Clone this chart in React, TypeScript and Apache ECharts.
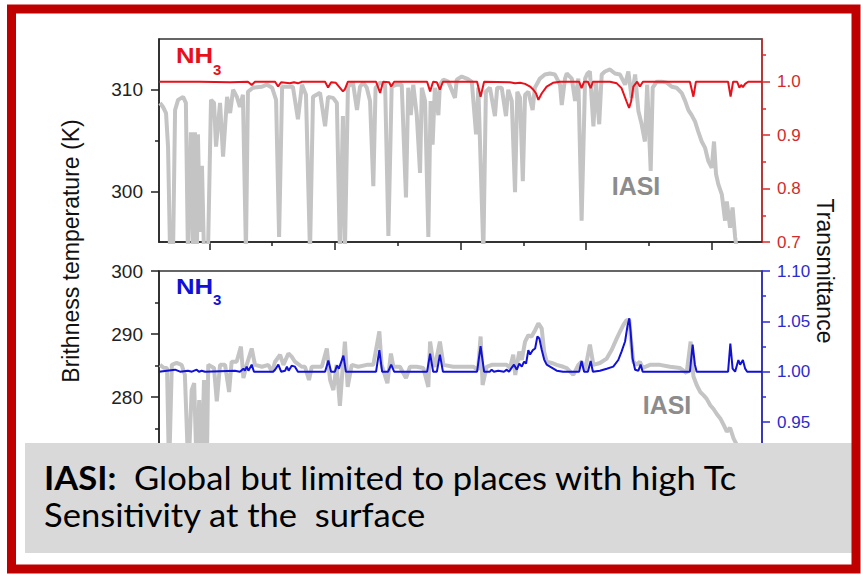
import React, { useEffect, useRef } from "react";
import * as echarts from "echarts";

// ---------- data (wavenumber cm-1, brightness temperature K, transmittance) ----------
const X_MIN = 830;
const X_MAX = 1070;

const topIasiWn = [830.4, 831.6, 832.8, 833.6, 834.4, 835.6, 836.4, 837.6, 839.6, 840.7,
  841.5, 842.7, 843.5, 844.3, 845.1, 845.5, 846.3, 847.1, 847.9, 849.5,
  850.7, 851.9, 852.7, 854.3, 855.5, 857.1, 858.3, 859.5, 861.0, 862.2,
  863.4, 864.6, 865.4, 867.4, 871.0, 873.0, 875.0, 876.6, 877.8, 879.0,
  883.3, 885.3, 886.9, 888.5, 890.1, 891.3, 894.1, 896.1, 897.3, 899.3,
  900.8, 902.0, 903.2, 904.0, 905.2, 907.2, 908.8, 910.0, 911.3, 912.7,
  914.0, 915.3, 916.2, 918.0, 920.0, 921.3, 922.6, 924.6, 926.6, 928.3,
  929.2, 930.2, 931.2, 932.6, 933.9, 934.6, 935.9, 937.2, 938.1, 938.9,
  939.8, 941.2, 941.8, 943.2, 945.1, 947.8, 948.5, 950.5, 952.5, 954.5,
  956.2, 957.1, 959.1, 960.1, 961.7, 963.7, 964.6, 966.4, 968.1, 969.0,
  970.4, 971.7, 972.6, 973.7, 974.8, 975.7, 977.0, 978.7, 979.6, 981.6,
  983.6, 985.6, 987.6, 989.6, 990.3, 991.6, 992.3, 994.3, 995.6, 996.9,
  998.2, 999.6, 1000.5, 1001.5, 1002.9, 1003.9, 1005.2, 1006.2, 1007.5, 1009.5,
  1011.5, 1013.5, 1015.5, 1016.8, 1018.1, 1019.5, 1020.8, 1022.1, 1023.4, 1024.3,
  1025.7, 1026.5, 1028.1, 1030.1, 1032.1, 1034.1, 1036.0, 1038.0, 1039.4, 1040.7,
  1042.0, 1043.3, 1044.6, 1046.0, 1047.3, 1048.6, 1050.0, 1050.9, 1051.7, 1052.6,
  1054.0, 1055.3, 1056.0, 1057.3, 1058.3, 1059.3, 1060.1];
const topIasiK = [308.7, 308.3, 307.7, 304.4, 294, 294, 308.0, 309.0, 309.3, 308.7,
  294, 305.8, 294, 305.8, 294, 305.6, 296.0, 302.5, 294, 294,
  309.0, 308.7, 304.4, 308.7, 303.4, 309.3, 307.7, 310.0, 309.3, 308.3,
  309.5, 294, 309.8, 310.2, 310.3, 310.5, 310.2, 309.0, 295.5, 310.3,
  310.3, 307.1, 310.5, 309.5, 294, 309.3, 309.7, 306.4, 309.3, 309.2,
  308.7, 294, 307.4, 294, 310.3, 310.7, 308.0, 310.3, 310.7, 310.2,
  308.9, 300.5, 310.2, 310.7, 310.5, 295.6, 310.3, 310.5, 310.5, 299.4,
  310.2, 307.5, 310.5, 307.5, 301.8, 310.2, 308.9, 295.5, 308.9, 304.6,
  310.2, 307.5, 310.5, 311.0, 310.8, 309.2, 311.0, 311.3, 311.1, 310.8,
  305.6, 310.2, 294, 309.8, 310.2, 307.4, 310.2, 310.2, 307.4, 310.0,
  308.9, 299.9, 309.8, 309.2, 301.0, 309.5, 309.8, 308.0, 310.2, 311.1,
  311.5, 311.6, 311.5, 310.5, 308.5, 311.1, 311.6, 311.1, 308.9, 311.1,
  297.1, 311.1, 311.6, 311.8, 306.4, 310.8, 306.6, 311.5, 311.8, 312.0,
  311.6, 311.5, 310.5, 311.8, 309.2, 311.5, 307.9, 306.6, 304.9, 310.5,
  302.0, 310.2, 310.8, 310.8, 310.7, 310.3, 310.2, 309.7, 308.9, 308.0,
  307.5, 306.9, 305.9, 304.9, 304.3, 303.0, 302.3, 304.9, 301.7, 300.7,
  299.7, 297.1, 299.0, 296.4, 298.4, 295.5, 294];

const topNh3Wn = [830.0, 846.3, 858.3, 865.4, 866.9, 868.2, 876.2, 877.4, 878.6, 882.1,
  883.7, 885.3, 886.9, 896.1, 897.3, 898.5, 900.4, 903.2, 904.0, 905.2,
  916.4, 918.0, 919.2, 921.6, 922.4, 923.6, 936.7, 937.9, 939.1, 940.6,
  941.8, 943.0, 956.6, 958.0, 959.4, 969.7, 971.7, 973.7, 975.7, 977.7,
  979.0, 980.1, 981.0, 982.3, 984.3, 986.8, 989.6, 997.2, 998.2, 999.2,
  1000.7, 1001.8, 1002.7, 1009.5, 1012.2, 1014.1, 1016.1, 1017.1, 1017.9, 1018.8,
  1020.3, 1021.4, 1022.6, 1041.3, 1042.7, 1043.7, 1056.5, 1057.5, 1058.5, 1060.1,
  1061.0, 1061.7, 1062.4, 1063.3, 1064.5, 1070.0];
const topNh3T = [1.000, 1.000, 0.999, 1.000, 0.994, 1.000, 1.000, 0.991, 0.999, 0.997,
  0.999, 0.997, 1.000, 1.000, 0.989, 0.999, 0.998, 0.982, 0.986, 1.000,
  1.000, 0.979, 1.000, 0.999, 0.991, 1.000, 1.000, 0.982, 1.000, 0.999,
  0.985, 1.000, 1.000, 0.972, 1.000, 0.999, 0.997, 0.998, 0.996, 0.991,
  0.985, 0.978, 0.966, 0.978, 0.991, 0.998, 1.000, 1.000, 0.988, 1.000,
  1.000, 0.988, 1.000, 1.000, 0.997, 0.988, 0.963, 0.951, 0.963, 0.991,
  1.000, 0.991, 1.000, 1.000, 0.972, 1.000, 1.000, 0.972, 1.000, 1.000,
  0.989, 0.994, 0.990, 0.996, 1.000, 1.000];

const botIasiWn = [830.4, 832.0, 833.2, 834.0, 835.1, 837.0, 839.0, 840.3, 841.7, 843.0,
  844.0, 845.0, 846.0, 847.0, 847.9, 849.0, 849.6, 851.0, 851.9, 853.0,
  854.3, 856.3, 857.9, 858.9, 860.9, 862.6, 863.6, 864.9, 866.9, 868.2,
  871.0, 873.5, 875.0, 876.2, 878.2, 879.5, 881.5, 882.8, 884.1, 886.8,
  888.1, 889.7, 890.8, 894.8, 896.8, 898.1, 899.4, 900.7, 902.0, 903.1,
  904.0, 905.1, 906.7, 909.3, 912.7, 915.3, 917.7, 918.6, 920.9, 922.3,
  923.3, 925.9, 928.3, 929.9, 932.6, 935.2, 937.2, 937.9, 939.1, 939.8,
  941.8, 943.2, 947.1, 951.1, 955.1, 957.0, 958.0, 958.8, 960.4, 962.4,
  965.7, 968.4, 969.7, 971.0, 971.8, 973.4, 974.4, 975.7, 977.0, 978.3,
  979.7, 981.0, 982.3, 983.3, 984.3, 986.3, 988.3, 990.9, 992.3, 994.9,
  996.9, 998.2, 999.6, 1001.5, 1002.9, 1005.5, 1008.2, 1010.2, 1012.2, 1013.5,
  1014.8, 1016.1, 1017.2, 1017.9, 1018.8, 1020.1, 1021.4, 1022.5, 1025.4, 1029.4,
  1033.4, 1037.4, 1040.0, 1041.6, 1042.7, 1044.0, 1045.4, 1046.7, 1048.0, 1049.4,
  1050.7, 1052.0, 1053.4, 1054.7, 1056.0, 1057.3, 1058.7, 1060.0, 1062.0, 1063.3];
const botIasiK = [285.1, 284.6, 284.6, 268, 285.1, 285.4, 285.1, 283.5, 268, 281.1,
  282.2, 268, 279.5, 268, 282.7, 268, 285.1, 284.8, 284.6, 279.3,
  285.1, 285.1, 280.8, 285.6, 285.6, 288.0, 283.0, 285.1, 287.7, 285.1,
  284.8, 285.1, 284.0, 285.6, 286.7, 285.1, 286.9, 286.4, 285.6, 284.8,
  284.8, 282.7, 284.8, 284.8, 287.7, 282.7, 281.1, 285.1, 278.6, 284.6,
  288.8, 281.6, 285.1, 284.8, 285.1, 285.1, 290.4, 285.1, 282.2, 286.9,
  284.8, 284.8, 283.0, 284.8, 284.8, 284.6, 281.6, 288.8, 285.6, 284.8,
  288.8, 285.1, 284.8, 284.8, 284.8, 284.3, 289.6, 281.9, 284.8, 285.1,
  285.1, 285.1, 284.6, 286.7, 283.5, 287.2, 285.9, 288.8, 289.8, 289.6,
  290.6, 291.7, 290.9, 287.2, 285.6, 285.4, 285.1, 284.8, 284.6, 283.5,
  285.1, 285.6, 284.3, 288.3, 285.1, 285.4, 286.1, 287.5, 289.3, 290.4,
  291.4, 292.2, 292.2, 288.8, 285.6, 285.1, 285.6, 284.6, 285.1, 285.1,
  284.8, 284.6, 283.8, 288.8, 283.3, 281.9, 280.8, 280.3, 279.7, 278.7,
  278.1, 277.3, 276.6, 275.6, 274.5, 275.1, 273.4, 272.4, 271.4, 270];

const botNh3Wn = [830.0, 836.4, 838.4, 841.5, 843.1, 845.0, 845.9, 847.0, 848.3, 860.2,
  862.2, 863.6, 864.2, 864.9, 865.6, 866.9, 867.8, 875.4, 876.2, 877.5,
  878.6, 880.2, 880.9, 881.6, 882.8, 884.1, 885.3, 896.1, 897.4, 898.5,
  900.0, 900.8, 901.6, 903.4, 904.4, 916.4, 917.7, 918.8, 921.2, 922.4,
  923.6, 936.7, 937.9, 939.1, 940.6, 941.8, 943.0, 956.6, 958.0, 959.4,
  961.7, 962.4, 963.3, 965.0, 967.3, 968.4, 969.3, 970.4, 971.3, 972.4,
  973.4, 974.4, 975.3, 976.1, 977.0, 977.7, 978.8, 979.7, 980.6, 981.4,
  982.3, 983.3, 984.3, 986.3, 988.3, 990.8, 997.2, 998.2, 999.2, 1000.7,
  1001.8, 1002.7, 1005.5, 1008.2, 1010.8, 1012.8, 1014.1, 1015.5, 1016.5, 1017.2,
  1017.7, 1018.5, 1019.5, 1020.8, 1021.7, 1022.5, 1041.3, 1042.4, 1043.3, 1044.0,
  1056.5, 1057.4, 1058.3, 1059.3, 1060.6, 1061.3, 1062.4, 1063.3, 1064.1, 1070.0];
const botNh3T = [1.000, 1.002, 1.000, 1.001, 1.000, 1.002, 1.000, 1.001, 1.000, 1.001,
  1.000, 1.003, 1.001, 1.005, 1.001, 1.007, 1.000, 1.000, 1.002, 1.007,
  1.000, 1.001, 1.005, 1.001, 1.006, 1.005, 1.000, 1.000, 1.011, 1.000,
  1.000, 1.006, 1.003, 1.016, 1.000, 1.000, 1.0215, 1.000, 1.000, 1.007,
  1.000, 1.000, 1.018, 1.000, 1.000, 1.017, 1.000, 1.000, 1.0255, 1.000,
  1.000, 1.002, 1.000, 1.001, 1.000, 1.002, 1.000, 1.004, 1.007, 1.002,
  1.008, 1.005, 1.010, 1.008, 1.0215, 1.017, 1.0215, 1.023, 1.035, 1.033,
  1.022, 1.012, 1.007, 1.004, 1.001, 1.000, 1.000, 1.0106, 1.000, 1.000,
  1.0106, 1.000, 1.001, 1.003, 1.005, 1.0116, 1.020, 1.030, 1.046, 1.053,
  1.040, 1.013, 1.002, 1.001, 1.007, 1.000, 1.000, 1.027, 1.007, 1.000,
  1.000, 1.028, 1.003, 1.000, 1.0116, 1.007, 1.0116, 1.003, 1.000, 1.000];

// ---------- ticks ----------
const xMajorTicks = [850, 900, 950, 1000, 1050];
const xMinorTicks = [875, 925, 975, 1025];
const topLeftLabels = [300, 310];
const topLeftMinor = [305];
const topRightLabels = [0.7, 0.8, 0.9, 1.0];
const topRightMinor = [0.75, 0.85, 0.95, 1.05];
const botLeftLabels = [280, 290, 300];
const botLeftMinor = [275, 285, 295];
const botRightLabels = [0.95, 1.0, 1.05, 1.1];
const botRightMinor = [0.975, 1.025, 1.075];

const FONT = '"Liberation Sans", Arial, Helvetica, sans-serif';
const BOX_FONT = 'Lato, "Open Sans", sans-serif';
const RED = "#e8101a";
const RED_AX = "#d42a2a";
const BLUE = "#1010d8";
const BLUE_AX = "#2b2bd0";
const GRAY = "#c4c4c4";

const zip = (xs: number[], ys: number[]) => xs.map((x, i) => [x, ys[i]]);

function yAx(grid: number, pos: string, min: number, max: number, color: string, labels: number[], fmt: (v: number) => string, fontSize: number, margin: number) {
  return {
    gridIndex: grid, type: "value", position: pos, min, max,
    axisLine: { show: true, onZero: false, lineStyle: { color, width: 1.5 } },
    axisTick: { show: true, customValues: labels, length: 8, lineStyle: { color, width: 1.5 } },
    axisLabel: { show: true, customValues: labels, formatter: fmt, margin, color, fontSize, fontFamily: FONT },
    splitLine: { show: false },
  };
}
function yMinor(grid: number, pos: string, min: number, max: number, color: string, ticks: number[]) {
  return {
    gridIndex: grid, type: "value", position: pos, min, max,
    axisLine: { show: false, onZero: false },
    axisTick: { show: true, customValues: ticks, length: 4, lineStyle: { color, width: 1.5 } },
    axisLabel: { show: false },
    splitLine: { show: false },
  };
}

export default function App() {
  const ref = useRef<HTMLDivElement>(null);
  useEffect(() => {
    document.body.style.margin = "0";
    const chart = echarts.init(ref.current!, null, { renderer: "svg" });
    const option: any = {
      animation: false,
      backgroundColor: "#ffffff",
      grid: [
        { left: 159, top: 39, width: 603, height: 203, show: true, borderColor: "#333", borderWidth: 1.5, backgroundColor: "transparent" },
        { left: 159, top: 271, width: 603, height: 189, show: true, borderColor: "#333", borderWidth: 1.5, backgroundColor: "transparent" },
      ],
      xAxis: [
        {
          gridIndex: 0, type: "value", min: X_MIN, max: X_MAX, position: "bottom",
          axisLine: { onZero: false, lineStyle: { color: "#222", width: 1.5 } },
          axisTick: { customValues: xMajorTicks, length: 8, lineStyle: { color: "#222", width: 1.5 } },
          axisLabel: { show: false }, splitLine: { show: false },
        },
        {
          gridIndex: 0, type: "value", min: X_MIN, max: X_MAX, position: "bottom",
          axisLine: { show: false, onZero: false },
          axisTick: { customValues: xMinorTicks, length: 4, lineStyle: { color: "#222", width: 1.5 } },
          axisLabel: { show: false }, splitLine: { show: false },
        },
        { gridIndex: 1, type: "value", min: X_MIN, max: X_MAX, show: false, axisLine: { onZero: false }, splitLine: { show: false } },
      ],
      yAxis: [
        yAx(0, "left", 295, 315, "#222", topLeftLabels, (v: number) => String(v), 19, 16),
        yMinor(0, "left", 295, 315, "#222", topLeftMinor),
        yAx(0, "right", 0.7, 1.08, RED_AX, topRightLabels, (v: number) => v.toFixed(1), 17, 15),
        yMinor(0, "right", 0.7, 1.08, RED_AX, topRightMinor),
        yAx(1, "left", 270, 300, "#222", botLeftLabels, (v: number) => String(v), 19, 16),
        yMinor(1, "left", 270, 300, "#222", botLeftMinor),
        yAx(1, "right", 0.9123, 1.1, BLUE_AX, botRightLabels, (v: number) => v.toFixed(2), 17, 15),
        yMinor(1, "right", 0.9123, 1.1, BLUE_AX, botRightMinor),
      ],
      series: [
        { type: "line", name: "IASI top", xAxisIndex: 0, yAxisIndex: 0, data: zip(topIasiWn, topIasiK), showSymbol: false, silent: true, lineStyle: { color: GRAY, width: 4 }, z: 2 },
        { type: "line", name: "NH3 top", xAxisIndex: 0, yAxisIndex: 2, data: zip(topNh3Wn, topNh3T), showSymbol: false, silent: true, lineStyle: { color: RED, width: 2 }, z: 3 },
        { type: "line", name: "IASI bottom", xAxisIndex: 2, yAxisIndex: 4, data: zip(botIasiWn, botIasiK), showSymbol: false, silent: true, lineStyle: { color: GRAY, width: 4 }, z: 2 },
        { type: "line", name: "NH3 bottom", xAxisIndex: 2, yAxisIndex: 6, data: zip(botNh3Wn, botNh3T), showSymbol: false, silent: true, lineStyle: { color: BLUE, width: 2 }, z: 3 },
      ],
      graphic: [
        { type: "text", x: 71, y: 251, rotation: Math.PI / 2, z: 50, style: { text: "Brithness temperature (K)", fontSize: 23, fontFamily: FONT, fill: "#111", align: "center", verticalAlign: "middle" } },
        { type: "text", x: 825, y: 271, rotation: -Math.PI / 2, z: 50, style: { text: "Transmittance", fontSize: 23, fontFamily: FONT, fill: "#111", align: "center", verticalAlign: "middle" } },
        { type: "text", x: 176, y: 55, scaleX: 1.12, z: 50, style: { text: "NH", fontSize: 23, fontWeight: "bold", fontFamily: FONT, fill: RED, align: "left", verticalAlign: "middle" } },
        { type: "text", x: 213, y: 69, z: 50, style: { text: "3", fontSize: 15, fontWeight: "bold", fontFamily: FONT, fill: RED, align: "left", verticalAlign: "middle" } },
        { type: "text", x: 176, y: 285.5, scaleX: 1.12, z: 50, style: { text: "NH", fontSize: 23, fontWeight: "bold", fontFamily: FONT, fill: BLUE, align: "left", verticalAlign: "middle" } },
        { type: "text", x: 213, y: 299.5, z: 50, style: { text: "3", fontSize: 15, fontWeight: "bold", fontFamily: FONT, fill: BLUE, align: "left", verticalAlign: "middle" } },
        { type: "text", x: 636, y: 186, z: 50, style: { text: "IASI", fontSize: 25, fontWeight: "bold", fontFamily: FONT, fill: "#8c8c8c", align: "center", verticalAlign: "middle" } },
        { type: "text", x: 667, y: 405, z: 50, style: { text: "IASI", fontSize: 25, fontWeight: "bold", fontFamily: FONT, fill: "#8c8c8c", align: "center", verticalAlign: "middle" } },
        { type: "rect", z: 100, shape: { x: 25, y: 443, width: 827, height: 110 }, style: { fill: "#d9d9d9", stroke: "none" } },
        {
          type: "text", x: 44, y: 478, scaleX: 1.08, z: 101,
          style: {
            text: "{b|IASI:}  Global but limited to places with high Tc",
            fontSize: 32, fontFamily: BOX_FONT, fill: "#000", align: "left", verticalAlign: "middle",
            rich: { b: { fontSize: 32, fontFamily: BOX_FONT, fontWeight: "bold", fill: "#000" } },
          },
        },
        { type: "text", x: 44, y: 515, scaleX: 1.08, z: 101, style: { text: "Sensitivity at the  surface", fontSize: 32, fontFamily: BOX_FONT, fill: "#000", align: "left", verticalAlign: "middle" } },
        { type: "rect", z: 102, shape: { x: 11.5, y: 9, width: 844.5, height: 560 }, style: { fill: "none", stroke: "#c00000", lineWidth: 9 } },
      ],
    };
    chart.setOption(option);
    return () => chart.dispose();
  }, []);
  return <div ref={ref} style={{ width: 861, height: 577 }} />;
}
